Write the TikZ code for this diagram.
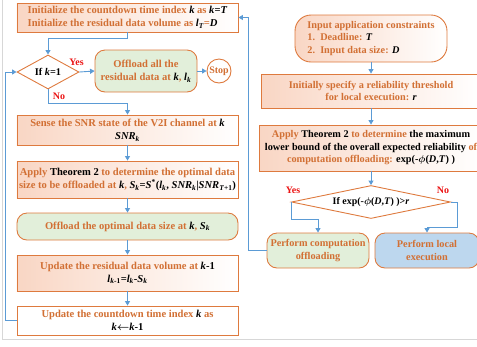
\documentclass[tikz,border=0pt]{standalone}
\usepackage{fontspec}
\setmainfont{Liberation Serif}
\usepackage{amsmath}
\usetikzlibrary{positioning, shapes.geometric, arrows.meta}
\definecolor{boxorange}{RGB}{222,122,62}
\definecolor{txtorange}{RGB}{210,112,52}
\definecolor{flowblue}{RGB}{91,155,213}
\definecolor{softgreen}{RGB}{226,239,218}
\definecolor{softblue}{RGB}{189,215,238}
\definecolor{softpink}{RGB}{249,214,196}
\definecolor{yesred}{RGB}{235,20,20}
\definecolor{framegray}{RGB}{215,215,215}
\newcommand{\bk}[1]{{\color{black}#1}}
\newcommand{\mi}[1]{{\color{black}\itshape #1}}
\newcommand{\phisym}{\ensuremath{\boldsymbol{\phi}}}
\tikzset{
    >={Triangle[width=5pt,length=4.5pt]}, % small filled heads
    proc/.style={draw=boxorange, line width=0.9pt, minimum width=221bp, align=center, inner sep=1.5bp}, % plain step
    shadedbox/.style={proc, left color=softpink, right color=white}, % pink fading step
    okbox/.style={proc, rounded corners=10bp, fill=softgreen}, % rounded action
    decision/.style={diamond, draw=boxorange, line width=0.9pt, inner sep=0pt, text=black},
    flow/.style={->, draw=flowblue, line width=0.9pt},
}

\begin{document}
\begin{tikzpicture}[
    x=1bp, y=-1bp, on grid,
    every node/.style={font=\fontsize{10.3}{12.5}\selectfont\bfseries, text=txtorange},
    bigtext/.style={font=\fontsize{10.6}{13}\selectfont\bfseries},
    answer/.style={text=yesred, font=\fontsize{10}{12}\selectfont\bfseries}
]
    \useasboundingbox (0,0) rectangle (477,346);
    \draw[framegray, line width=1pt] (2.5,0) -- (2.5,339) -- (477,339);

    % --- Left column ---
    \node[shadedbox, bigtext, align=left, minimum height=29bp] (init) at (127.5,17.5)
        {Initialize the countdown time index \mi{k} as \bk{\textit{k}=\textit{T}}\\
         Initialize the residual data volume as \mi{l}\textsubscript{\mi{T}}=\mi{D}};
    \node[decision, aspect=1.8, minimum width=62bp, minimum height=34bp] (ifk) at (48,72)
        {If \textit{k}=1};
    \node[okbox, bigtext, minimum width=102bp, minimum height=42bp] (offall) at (146,71)
        {Offload all the\\ residual data at \mi{k}, \mi{l}\textsubscript{\mi{k}}};
    \node[circle, draw=boxorange, line width=0.9pt, minimum size=24bp, inner sep=0pt,
          font=\fontsize{10}{12}\selectfont\bfseries] (stop) at (219,71) {Stop};

    \node[shadedbox, bigtext, minimum height=30bp] (sense) at (127.5,130)
        {Sense the SNR state of the V2I channel at \mi{k}\\ \mi{SNR}\textsubscript{\mi{k}}};
    \node[shadedbox, bigtext, minimum height=37bp, below=49.5bp of sense] (applyleft)
        {Apply \bk{Theorem 2} to determine the optimal data\\
         size to be offloaded at \mi{k}, \bk{\textit{S}\textsubscript{\textit{k}}=\textit{S}\textsuperscript{*}(\textit{l}\textsubscript{\textit{k}}, \textit{SNR}\textsubscript{\textit{k}}|\textit{SNR}\textsubscript{\textit{T}+1})}};
    \node[okbox, bigtext, minimum width=221bp, minimum height=27bp, below=47bp of applyleft] (offopt)
        {Offload the optimal data size at \mi{k}, \mi{S}\textsubscript{\mi{k}}};
    \node[shadedbox, bigtext, minimum height=36bp, below=46.5bp of offopt] (resid)
        {Update the residual data volume at \bk{\textit{k}-1}\\
         \bk{\textit{l}\textsubscript{\textit{k}-1}=\textit{l}\textsubscript{\textit{k}}-\textit{S}\textsubscript{\textit{k}}}};
    \node[proc, bigtext, fill=white, minimum height=29bp, below=47.5bp of resid] (count)
        {Update the countdown time index \mi{k} as\\ \bk{\textit{k}$\boldsymbol{\leftarrow}$\textit{k}-1}};

    % --- Right column ---
    \node[draw=boxorange, line width=0.9pt, rounded corners=16bp, left color=softpink, right color=white,
          align=left, minimum width=152bp, minimum height=47bp, inner sep=1bp] (input) at (371,38.5)
        {Input application constraints\\ 1.\ \ Deadline: \mi{T}\\ 2.\ \ Input data size: \mi{D}};
    \node[shadedbox, minimum width=220bp, minimum height=34bp] (thresh) at (371,91)
        {Initially specify a reliability threshold\\ for local execution: \mi{r}};
    \node[shadedbox, minimum width=224bp, minimum height=46bp, below=57bp of thresh] (applyright)
        {Apply \bk{Theorem 2} to determine \bk{the maximum}\\
         \bk{lower bound of the overall expected reliability} of\\
         computation offloading: \bk{exp(-\phisym(\textit{D},\textit{T}) )}};
    \node[decision, aspect=4.8, minimum width=159bp, minimum height=33bp, below=54bp of applyright,
          font=\fontsize{10}{12}\selectfont\bfseries] (ifexp)
        {If exp(-\phisym(\textit{D},\textit{T}) )\textgreater\textit{r}};
    \node[okbox, minimum width=102bp, minimum height=35bp] (offcomp) at (318,250.5)
        {Perform computation\\ offloading};
    \node[okbox, fill=softblue, minimum width=104bp, minimum height=35bp, right=109bp of offcomp] (local)
        {Perform local\\ execution};

    % --- Branch labels ---
    \node[answer] (yesk) at (76.5,62) {Yes};
    \node[answer] (nok) at (59,96) {No};
    \node[answer] (yesexp) at (293,190) {Yes};
    \node[answer] (noexp) at (443,190) {No};

    % --- Connectors ---
    \draw[flow] (init.south) -- ++(0,6) -| (ifk.north);
    \draw[flow] (ifk.east) -- (offall.west);
    \draw[flow] (offall.east) -- (stop.west);
    \draw[flow] (ifk.south) -- ++(0,14) -| (sense.north);
    \draw[flow] (sense) -- (applyleft);
    \draw[flow] (applyleft) -- (offopt);
    \draw[flow] (offopt) -- (resid);
    \draw[flow] (resid) -- (count);
    \draw[flow] (count.west) -- ++(-11,0) |- (ifk.west);

    \draw[flow] (input) -- (thresh);
    \draw[flow] (thresh) -- (applyright);
    \draw[flow] (applyright) -- (ifexp);
    \draw[flow] (ifexp.west) -- ++(0,17) -| (offcomp.north);
    \draw[flow] (ifexp.east) -- ++(6,0) -- ++(0,25) -| (local.north);
    \draw[flow] (offcomp.west) -- ++(-18,0) |- (init.east);

\end{tikzpicture}
\end{document}
